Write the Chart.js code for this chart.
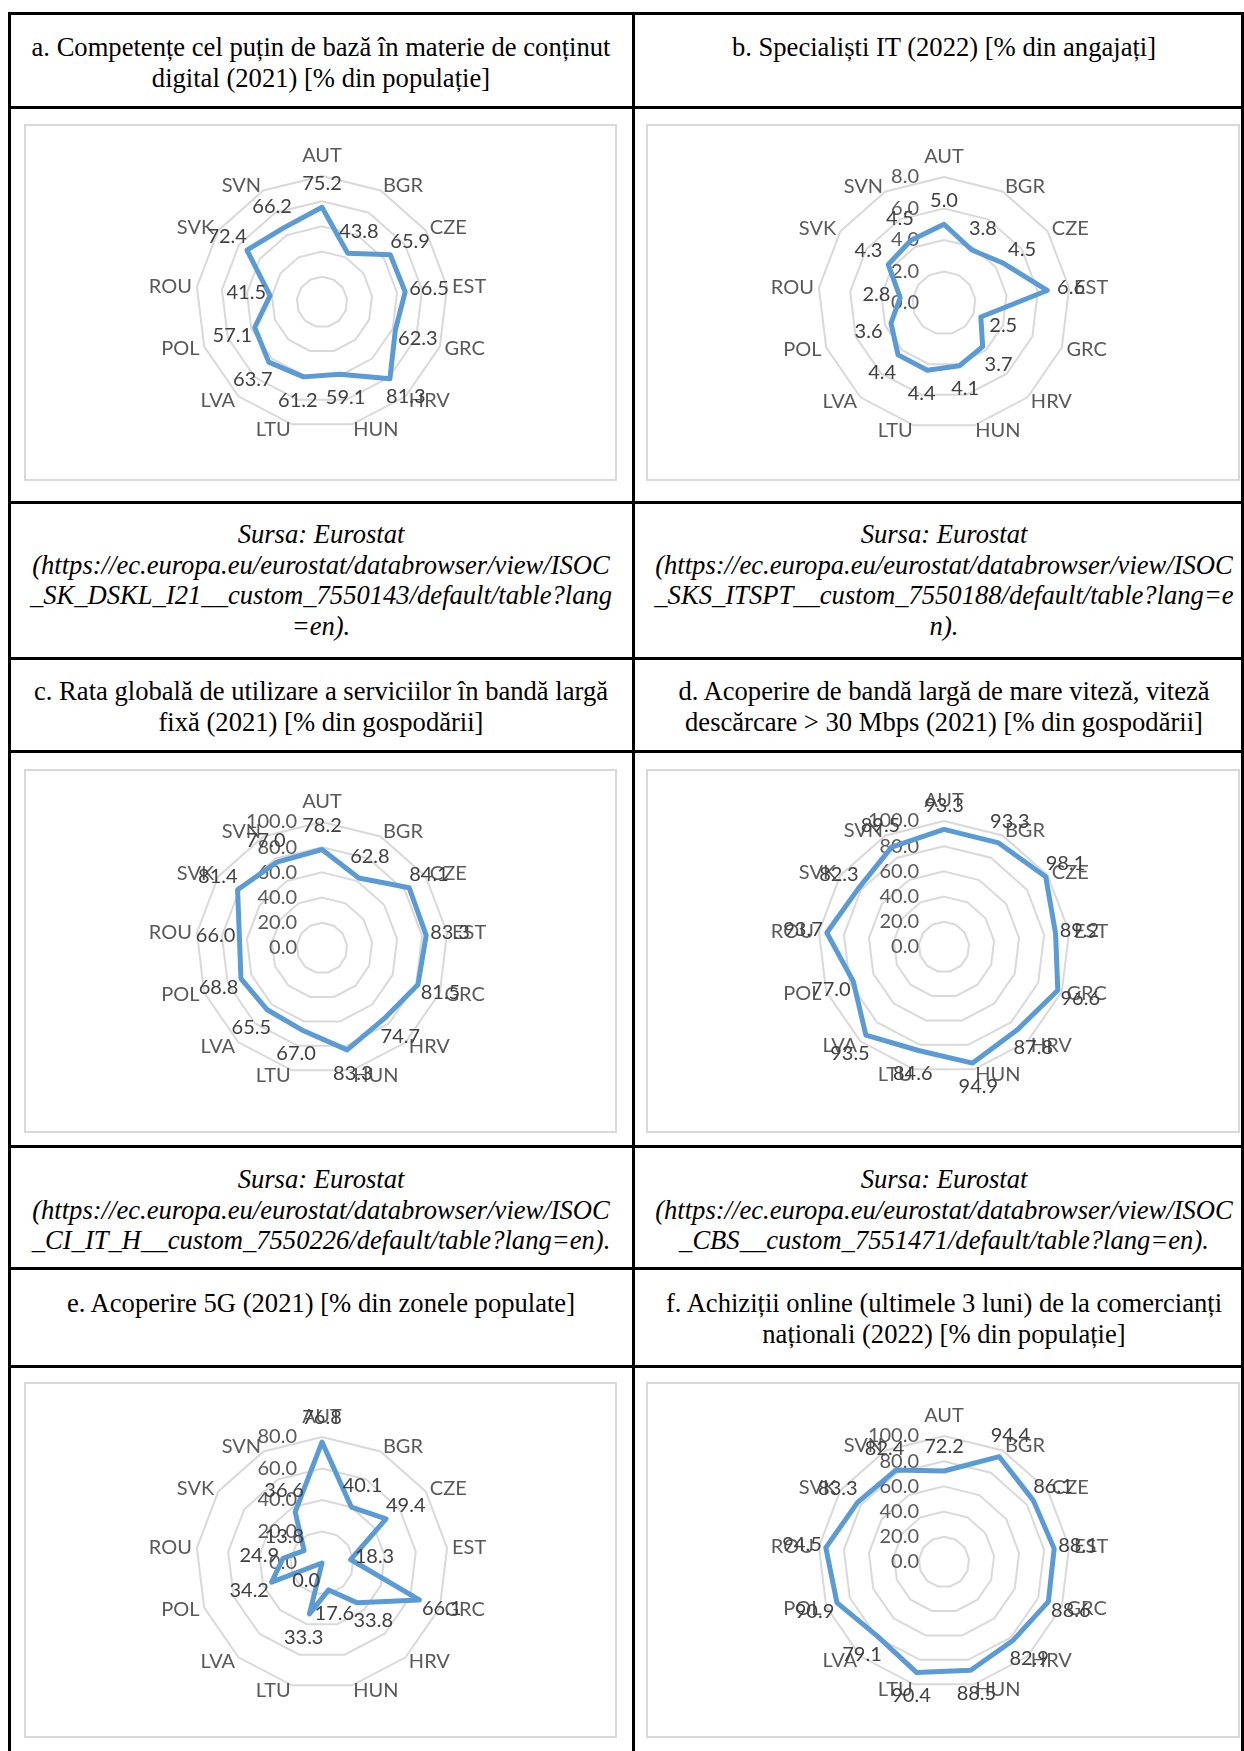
<!DOCTYPE html>
<html>
<head>
<meta charset="utf-8">
<script src="https://cdn.jsdelivr.net/npm/chart.js@4.4.0/dist/chart.umd.min.js"></script>
<style>
  body { margin: 0; background: #fff; }
  #page { position: relative; width: 1244px; height: 1751px; overflow: hidden; font-family: "Liberation Serif", "Times New Roman", serif; color: #000; }
  .hl { position: absolute; left: 8px; width: 1236px; height: 3px; background: #000; }
  .vl { position: absolute; top: 12px; height: 1740px; width: 3px; background: #000; }
  .txt { position: absolute; width: 640px; text-align: center; font-size: 26.6px; line-height: 30.6px; white-space: nowrap; }
  .src { font-style: italic; }
  .box { position: absolute; border: 2px solid #d9d9d9; box-sizing: border-box; }
  canvas { position: absolute; }
</style>
</head>
<body>
<div id="page">
  <div class="hl" style="top:12px"></div>
  <div class="hl" style="top:106px"></div>
  <div class="hl" style="top:501px"></div>
  <div class="hl" style="top:657px"></div>
  <div class="hl" style="top:750px"></div>
  <div class="hl" style="top:1145px"></div>
  <div class="hl" style="top:1267px"></div>
  <div class="hl" style="top:1365px"></div>
  <div class="vl" style="left:8px"></div>
  <div class="vl" style="left:632px"></div>
  <div class="vl" style="left:1241px"></div>

  <div class="txt" style="left:1px;top:32px">a. Competențe cel puțin de bază în materie de conținut<br>digital (2021) [% din populație]</div>
  <div class="txt" style="left:624px;top:32px">b. Specialiști IT (2022) [% din angajați]</div>
  <div class="txt src" style="left:1px;top:519px">Sursa: Eurostat<br>(https://ec.europa.eu/eurostat/databrowser/view/ISOC<br>_SK_DSKL_I21__custom_7550143/default/table?lang<br>=en).</div>
  <div class="txt src" style="left:624px;top:519px">Sursa: Eurostat<br>(https://ec.europa.eu/eurostat/databrowser/view/ISOC<br>_SKS_ITSPT__custom_7550188/default/table?lang=e<br>n).</div>
  <div class="txt" style="left:1px;top:676px">c. Rata globală de utilizare a serviciilor în bandă largă<br>fixă (2021) [% din gospodării]</div>
  <div class="txt" style="left:624px;top:676px">d. Acoperire de bandă largă de mare viteză, viteză<br>descărcare &gt; 30 Mbps (2021) [% din gospodării]</div>
  <div class="txt src" style="left:1px;top:1164px">Sursa: Eurostat<br>(https://ec.europa.eu/eurostat/databrowser/view/ISOC<br>_CI_IT_H__custom_7550226/default/table?lang=en).</div>
  <div class="txt src" style="left:624px;top:1164px">Sursa: Eurostat<br>(https://ec.europa.eu/eurostat/databrowser/view/ISOC<br>_CBS__custom_7551471/default/table?lang=en).</div>
  <div class="txt" style="left:1px;top:1288px">e. Acoperire 5G (2021) [% din zonele populate]</div>
  <div class="txt" style="left:624px;top:1288px">f. Achiziții online (ultimele 3 luni) de la comercianți<br>naționali (2022) [% din populație]</div>
</div>

<script>
const countries = ['AUT', 'BGR', 'CZE', 'EST', 'GRC', 'HRV', 'HUN', 'LTU', 'LVA', 'POL', 'ROU', 'SVK', 'SVN'];

// values
const digitalSkills = [75.2, 43.8, 65.9, 66.5, 62.3, 81.3, 59.1, 61.2, 63.7, 57.1, 41.5, 72.4, 66.2];
const itSpecialists = [5.0, 3.8, 4.5, 6.6, 2.5, 3.7, 4.1, 4.4, 4.4, 3.6, 2.8, 4.3, 4.5];
const fixedBroadband = [78.2, 62.8, 84.1, 83.3, 81.5, 74.7, 83.3, 67.0, 65.5, 68.8, 66.0, 81.4, 77.0];
const fastBroadband = [93.3, 93.3, 98.1, 89.2, 96.6, 87.8, 94.9, 84.6, 93.5, 77.0, 93.7, 82.3, 89.5];
const coverage5G = [76.8, 40.1, 49.4, 18.3, 66.1, 33.8, 17.6, 33.3, 0.0, 34.2, 24.9, 13.8, 36.6];
const onlinePurchases = [72.2, 94.4, 86.1, 88.1, 88.6, 82.9, 88.5, 90.4, 79.1, 90.9, 94.5, 83.3, 82.4];

// scale limits per chart: max and step
const scaleMax = [100, 8, 100, 100, 80, 100];
const scaleStep = [20, 2, 20, 20, 20, 20];
const showTicks = [false, true, true, true, true, true];

const allSeries = [digitalSkills, itSpecialists, fixedBroadband, fastBroadband, coverage5G, onlinePurchases];

// chart frames on the page: box left/top/width/height and the radar center
const frames = [
  { x: 24, y: 124, w: 593, h: 357, cx: 322, cy: 302 },
  { x: 646, y: 124, w: 594, h: 357, cx: 944, cy: 303 },
  { x: 24, y: 769, w: 593, h: 364, cx: 322, cy: 948 },
  { x: 646, y: 769, w: 594, h: 364, cx: 944, cy: 947 },
  { x: 24, y: 1382, w: 593, h: 356, cx: 322, cy: 1563 },
  { x: 646, y: 1382, w: 594, h: 356, cx: 944, cy: 1562 }
];
const radius = 126;

const excelLabels = {
  id: 'excelLabels',
  beforeDatasetsDraw(chart, args, opts) {
    if (!opts.ticks) return;
    const ctx = chart.ctx, r = chart.scales.r;
    ctx.save();
    ctx.font = '20px Lato';
    ctx.fillStyle = '#595959';
    ctx.textAlign = 'right';
    ctx.textBaseline = 'middle';
    r.ticks.forEach(t => {
      const y = r.yCenter - r.getDistanceFromCenterForValue(t.value);
      ctx.fillText(t.value.toFixed(1), r.xCenter - 25, y);
    });
    ctx.restore();
  },
  afterDatasetsDraw(chart) {
    const ctx = chart.ctx, r = chart.scales.r;
    ctx.save();
    ctx.font = '20px Lato';
    // category names round the outer ring
    ctx.fillStyle = '#595959';
    chart.data.labels.forEach((lab, i) => {
      const a = r.getIndexAngle(i);
      const s = Math.sin(a);
      let p;
      if (Math.abs(s) < 0.01) {
        p = r.getPointPosition(i, r.drawingArea + 14);
        ctx.textAlign = 'center';
        ctx.textBaseline = 'alphabetic';
      } else {
        p = r.getPointPosition(i, r.drawingArea + 5);
        ctx.textAlign = s > 0 ? 'left' : 'right';
        ctx.textBaseline = 'middle';
      }
      ctx.fillText(lab, p.x, p.y);
    });
    // value labels just outside each point
    const vals = chart.data.datasets[0].data;
    ctx.fillStyle = '#404040';
    ctx.textAlign = 'center';
    ctx.textBaseline = 'middle';
    chart.getDatasetMeta(0).data.forEach((pt, i) => {
      const a = r.getIndexAngle(i) - Math.PI / 2;
      ctx.fillText(vals[i].toFixed(1), pt.x + 24 * Math.cos(a), pt.y + 24 * Math.sin(a));
    });
    ctx.restore();
  }
};

const page = document.getElementById('page');

function drawRadar(k) {
  const f = frames[k];
  const box = document.createElement('div');
  box.className = 'box';
  box.style.left = f.x + 'px';
  box.style.top = f.y + 'px';
  box.style.width = f.w + 'px';
  box.style.height = f.h + 'px';
  page.appendChild(box);

  const cv = document.createElement('canvas');
  cv.width = f.w;
  cv.height = f.h;
  cv.style.left = f.x + 'px';
  cv.style.top = f.y + 'px';
  page.appendChild(cv);

  new Chart(cv.getContext('2d'), {
    type: 'radar',
    data: {
      labels: countries,
      datasets: [{
        data: allSeries[k],
        borderColor: '#5b9bd5',
        borderWidth: 5,
        borderJoinStyle: 'round',
        pointRadius: 0,
        pointHoverRadius: 0,
        fill: false,
        tension: 0
      }]
    },
    options: {
      responsive: false,
      animation: false,
      events: [],
      layout: {
        padding: {
          left: f.cx - f.x - radius,
          right: f.x + f.w - f.cx - radius,
          top: f.cy - f.y - radius,
          bottom: f.y + f.h - f.cy - radius
        }
      },
      plugins: {
        legend: { display: false },
        tooltip: { enabled: false },
        excelLabels: { ticks: showTicks[k] }
      },
      scales: {
        r: {
          min: 0,
          max: scaleMax[k],
          beginAtZero: true,
          ticks: { stepSize: scaleStep[k], display: false },
          grid: { color: '#d9d9d9', lineWidth: 2 },
          angleLines: { display: false },
          pointLabels: { display: false }
        }
      }
    },
    plugins: [excelLabels]
  });
}

document.fonts.load('20px Lato').then(() => {
  for (let k = 0; k < frames.length; k++) drawRadar(k);
});
</script>
</body>
</html>
